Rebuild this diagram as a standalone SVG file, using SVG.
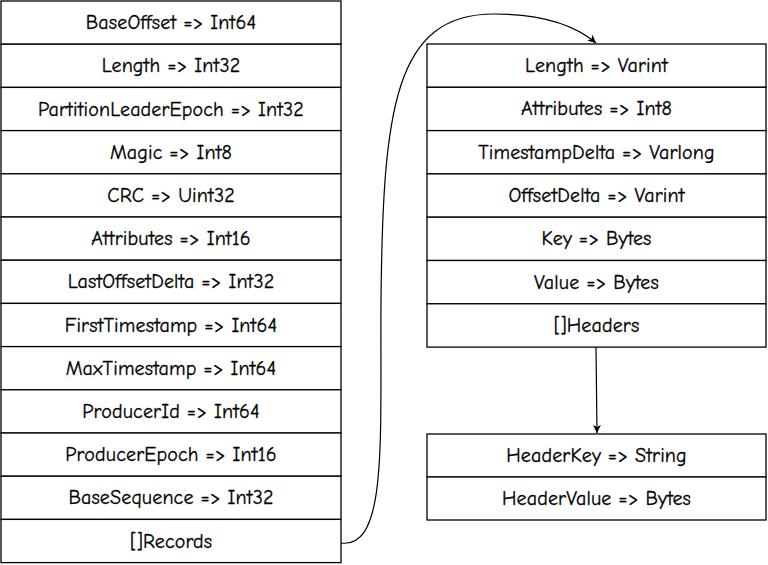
<svg xmlns="http://www.w3.org/2000/svg" width="768" height="565" viewBox="0 0 768 565">
<style>
.b{fill:#fff;stroke:#000;stroke-width:1.3}
.t{font-family:"Comic Neue","Liberation Sans",sans-serif;font-size:20px;letter-spacing:0.15px;fill:#000;stroke:#000;stroke-width:0.3;text-anchor:middle;dominant-baseline:central}
.c{fill:none;stroke:#000;stroke-width:1.2}
</style>
<defs>
<marker id="ah" markerWidth="10" markerHeight="10" refX="9" refY="5" orient="auto" markerUnits="userSpaceOnUse">
<path d="M1,1 L9,5 L1,9 L3,5 Z" fill="#000"/>
</marker>
</defs>
<rect width="768" height="565" fill="#fff"/>
<g id="batch">
<g id="n1"><rect class="b" x="1" y="1" width="340" height="43.2"/><text class="t" x="171" y="22.6">BaseOffset =&gt; Int64</text></g>
<g id="n2"><rect class="b" x="1" y="44.2" width="340" height="43.2"/><text class="t" x="171" y="65.8">Length =&gt; Int32</text></g>
<g id="n3"><rect class="b" x="1" y="87.4" width="340" height="43.2"/><text class="t" x="171" y="109">PartitionLeaderEpoch =&gt; Int32</text></g>
<g id="n4"><rect class="b" x="1" y="130.6" width="340" height="43.2"/><text class="t" x="171" y="152.2">Magic =&gt; Int8</text></g>
<g id="n5"><rect class="b" x="1" y="173.8" width="340" height="43.2"/><text class="t" x="171" y="195.4">CRC =&gt; Uint32</text></g>
<g id="n6"><rect class="b" x="1" y="217" width="340" height="43.2"/><text class="t" x="171" y="238.6">Attributes =&gt; Int16</text></g>
<g id="n7"><rect class="b" x="1" y="260.2" width="340" height="43.2"/><text class="t" x="171" y="281.8">LastOffsetDelta =&gt; Int32</text></g>
<g id="n8"><rect class="b" x="1" y="303.4" width="340" height="43.2"/><text class="t" x="171" y="325">FirstTimestamp =&gt; Int64</text></g>
<g id="n9"><rect class="b" x="1" y="346.6" width="340" height="43.2"/><text class="t" x="171" y="368.2">MaxTimestamp =&gt; Int64</text></g>
<g id="n10"><rect class="b" x="1" y="389.8" width="340" height="43.2"/><text class="t" x="171" y="411.4">ProducerId =&gt; Int64</text></g>
<g id="n11"><rect class="b" x="1" y="433" width="340" height="43.2"/><text class="t" x="171" y="454.6">ProducerEpoch =&gt; Int16</text></g>
<g id="n12"><rect class="b" x="1" y="476.2" width="340" height="43.2"/><text class="t" x="171" y="497.8">BaseSequence =&gt; Int32</text></g>
<g id="n13"><rect class="b" x="1" y="519.4" width="340" height="43.2"/><text class="t" x="171" y="541">[]Records</text></g>
</g>
<g id="record">
<g id="r1"><rect class="b" x="427" y="44" width="339" height="43.3"/><text class="t" x="596.5" y="65.6">Length =&gt; Varint</text></g>
<g id="r2"><rect class="b" x="427" y="87.3" width="339" height="43.3"/><text class="t" x="596.5" y="108.9">Attributes =&gt; Int8</text></g>
<g id="r3"><rect class="b" x="427" y="130.6" width="339" height="43.3"/><text class="t" x="596.5" y="152.2">TimestampDelta =&gt; Varlong</text></g>
<g id="r4"><rect class="b" x="427" y="173.9" width="339" height="43.3"/><text class="t" x="596.5" y="195.5">OffsetDelta =&gt; Varint</text></g>
<g id="r5"><rect class="b" x="427" y="217.2" width="339" height="43.3"/><text class="t" x="596.5" y="238.8">Key =&gt; Bytes</text></g>
<g id="r6"><rect class="b" x="427" y="260.5" width="339" height="43.3"/><text class="t" x="596.5" y="282.1">Value =&gt; Bytes</text></g>
<g id="r7"><rect class="b" x="427" y="303.8" width="339" height="43.3"/><text class="t" x="596.5" y="325.4">[]Headers</text></g>
</g>
<g id="header">
<g id="h1"><rect class="b" x="427" y="434" width="339" height="43"/><text class="t" x="596.5" y="455.5">HeaderKey =&gt; String</text></g>
<g id="h2"><rect class="b" x="427" y="477" width="339" height="43"/><text class="t" x="596.5" y="498.5">HeaderValue =&gt; Bytes</text></g>
</g>
<g id="connectors">
<path class="c" d="M341,543 C388,549 380,440 381,300 C383,110 394,14 494,14 C545,14 576,26 596,43" marker-end="url(#ah)"/>
<path class="c" d="M596,347 L597,433" marker-end="url(#ah)"/>
</g>
</svg>
